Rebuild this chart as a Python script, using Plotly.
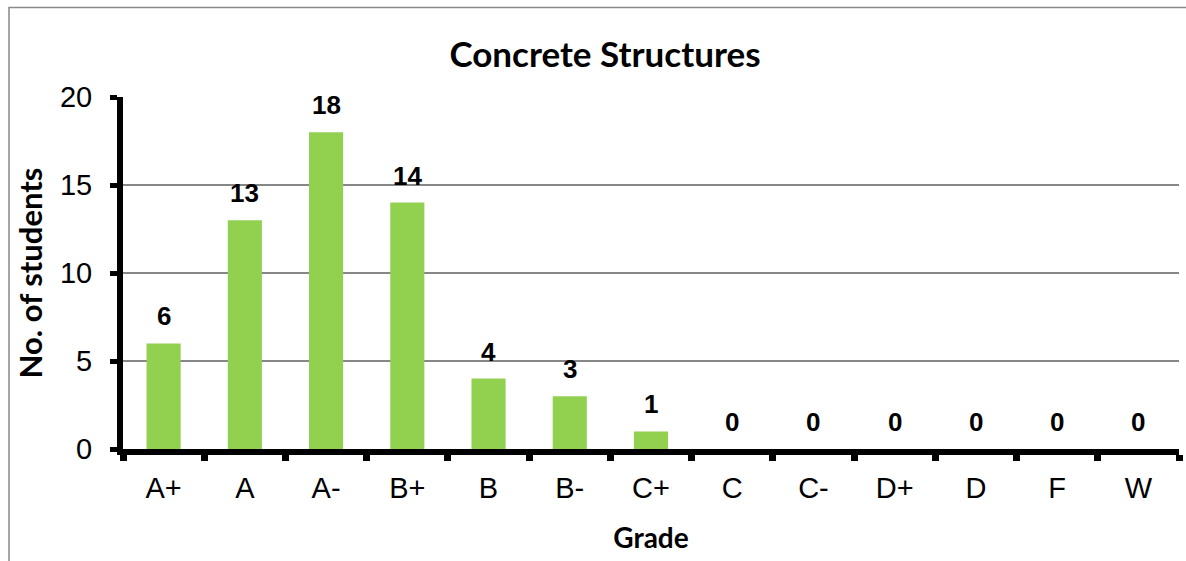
import plotly.graph_objects as go

grades = ["A+", "A", "A-", "B+", "B", "B-", "C+", "C", "C-", "D+", "D", "F", "W"]
students = [6, 13, 18, 14, 4, 3, 1, 0, 0, 0, 0, 0, 0]
y_ticks = [0, 5, 10, 15, 20]

title_text = "Concrete Structures"
x_title = "Grade"
y_title = "No. of students"

BAR_COLOR = "#92D050"
GRID = "#878787"
TITLE_FONT = "Lato, Carlito, Calibri, sans-serif"
TICK_FONT = "Arial, Liberation Sans, sans-serif"

W, H = 1186, 561
L, R, T, B = 123, 7, 97, 112
pw, ph = W - L - R, H - T - B

fig = go.Figure()
fig.add_trace(go.Bar(
    x=grades, y=students,
    marker=dict(color=BAR_COLOR, line=dict(width=0)),
    hoverinfo="x+y",
))

for g, v in zip(grades, students):
    fig.add_annotation(
        x=g, y=v, text=f"<b>{v}</b>", showarrow=False,
        xref="x", yref="y", yanchor="bottom", yshift=10,
        font=dict(family=TICK_FONT, size=26, color="#000000"),
    )

# outer chart border (top and left visible)
fig.add_shape(
    type="rect", xref="paper", yref="paper",
    x0=(9 - L) / pw, x1=1.05,
    y0=-0.6, y1=1 + (T - 7.5) / ph,
    line=dict(color="#888888", width=1.5), fillcolor="rgba(0,0,0,0)",
    layer="below",
)

fig.update_layout(
    width=W, height=H,
    margin=dict(l=L, r=R, t=T, b=B, autoexpand=False),
    paper_bgcolor="#FFFFFF", plot_bgcolor="#FFFFFF",
    bargap=0.58,
    showlegend=False,
    title=dict(
        text=f"<b>{title_text}</b>",
        font=dict(family=TITLE_FONT, size=35, color="#000000"),
        x=605 / W, xref="container", xanchor="center",
        y=1 - 55 / H, yref="container", yanchor="middle",
    ),
    xaxis=dict(
        type="category",
        categoryorder="array", categoryarray=grades,
        showline=True, linecolor="#000000", linewidth=6,
        ticks="outside", tickson="boundaries", ticklen=6, tickwidth=7, tickcolor="#000000",
        tickfont=dict(family=TICK_FONT, size=29, color="#000000"),
        ticklabelstandoff=8,
        showgrid=False, zeroline=False,
        title=dict(text=f"<b>{x_title}</b>", standoff=28,
                   font=dict(family=TITLE_FONT, size=28, color="#000000")),
        automargin=False,
    ),
    yaxis=dict(
        range=[0, 20], tickvals=y_ticks,
        showline=True, linecolor="#000000", linewidth=6,
        ticks="outside", ticklen=7, tickwidth=5, tickcolor="#000000",
        tickfont=dict(family=TICK_FONT, size=29, color="#000000"),
        ticklabelstandoff=12,
        showgrid=True, gridcolor=GRID, gridwidth=2,
        zeroline=False,
        title=dict(text=f"<b>{y_title}</b>", standoff=10,
                   font=dict(family=TITLE_FONT, size=31, color="#000000")),
        automargin=False,
    ),
)

fig.write_html(
    "out.html",
    config={"displayModeBar": False},
    post_script="document.body.style.margin='0';document.body.style.padding='0';",
)
